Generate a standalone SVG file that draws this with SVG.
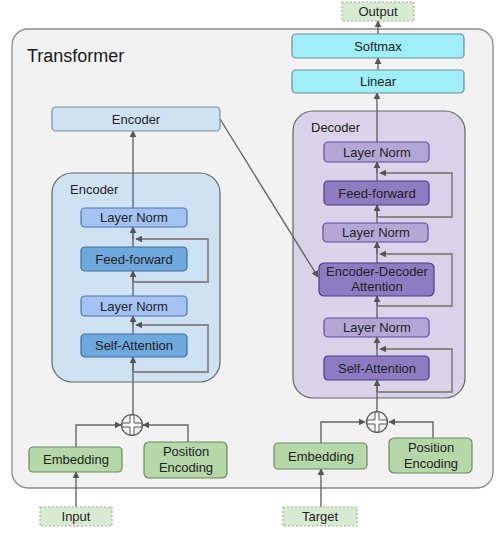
<svg xmlns="http://www.w3.org/2000/svg" width="501" height="535" viewBox="0 0 501 535">
<style>
text{font-family:"Liberation Sans",Arial,sans-serif;font-size:13px;fill:#222;text-anchor:middle}
.lbl{text-anchor:start;font-size:13px}
.title{text-anchor:start;font-size:18px;fill:#1a1a1a}
.outer{fill:#f2f2f2;stroke:#8a8a8a;stroke-width:1.3}
.encc{fill:#cfe2f3;stroke:#666;stroke-width:1.2}
.decc{fill:#d9d2e9;stroke:#666;stroke-width:1.2}
.encbox{fill:#cfe2f3;stroke:#7b8da0;stroke-width:1.2}
.eln{fill:#a4c2f4;stroke:#4f73a8;stroke-width:1.2}
.eff{fill:#6fa8dc;stroke:#3f6f9f;stroke-width:1.2}
.dln{fill:#b4a7d6;stroke:#5b4a9e;stroke-width:1.2}
.dff{fill:#8e7cc3;stroke:#4b3a8a;stroke-width:1.2}
.cyan{fill:#a0eef8;stroke:#6a8f99;stroke-width:1.2}
.green{fill:#b6d7a8;stroke:#6a8a5e;stroke-width:1.2}
.io{fill:#d9ead3;stroke:#9ab58e;stroke-width:1.2;stroke-dasharray:2 2}
.ln{fill:none;stroke:#666;stroke-width:1.4;marker-end:url(#ah)}
.lp{fill:none;stroke:#888;stroke-width:1.8;marker-end:url(#ah)}
.plus{fill:#f2f2f2;stroke:#555;stroke-width:1.2}
.cross{fill:#fff;stroke:#555;stroke-width:1}
</style>
<defs>
<marker id="ah" viewBox="0 0 10 10" refX="9" refY="5" markerWidth="7" markerHeight="7" markerUnits="userSpaceOnUse" orient="auto">
<path d="M0,0 L10,5 L0,10 z" fill="#555"/>
</marker>
<path id="crs" d="M-2,-10 H2 V-2 H10 V2 H2 V10 H-2 V2 H-10 V-2 H-2 Z"/>
</defs>
<rect class="outer" x="12" y="29" width="481" height="459" rx="16"/>
<text class="title" x="27" y="62">Transformer</text>

<g id="encoder-container"><rect class="encc" x="52" y="173" width="168" height="209" rx="20"/><text class="lbl" x="70" y="194">Encoder</text></g>
<g id="decoder-container"><rect class="decc" x="293" y="111" width="172" height="287" rx="20"/><text class="lbl" x="311" y="132">Decoder</text></g>

<g id="connectors">
<line class="ln" x1="220" y1="119" x2="318" y2="277"/>
<polyline class="ln" points="133,415 133,131"/>
<polyline class="lp" points="133,372 208,372 208,325 136,325"/>
<polyline class="lp" points="133,282 208,282 208,239 136,239"/>
<polyline class="ln" points="133,372 133,357"/>
<polyline class="ln" points="133,282 133,271"/>
<polyline class="ln" points="133,325 133,316"/>
<polyline class="ln" points="133,239 133,227"/>
<polyline class="ln" points="377,411 377,93"/>
<polyline class="ln" points="378,70 378,58"/>
<polyline class="ln" points="378,34 378,21"/>
<polyline class="lp" points="377,392 452,392 452,349 380,349"/>
<polyline class="lp" points="377,306 452,306 452,254 380,254"/>
<polyline class="lp" points="377,217 452,217 452,173 380,173"/>
<polyline class="ln" points="377,392 377,380"/>
<polyline class="ln" points="377,349 377,337"/>
<polyline class="ln" points="377,306 377,296"/>
<polyline class="ln" points="377,254 377,242"/>
<polyline class="ln" points="377,217 377,205"/>
<polyline class="ln" points="377,173 377,162"/>
<polyline class="ln" points="76,447 76,425 121,425"/>
<polyline class="ln" points="188,442 188,425 143,425"/>
<polyline class="ln" points="76,507 76,472"/>
<polyline class="ln" points="321,443 321,422 365,422"/>
<polyline class="ln" points="433,438 433,422 389,422"/>
<polyline class="ln" points="321,507 321,469"/>
</g>

<g id="encoder-out"><rect class="encbox" x="52" y="107" width="168" height="24" rx="4"/><text x="136" y="124">Encoder</text></g>
<g id="enc-ln2"><rect class="eln" x="81" y="208" width="106" height="19" rx="4"/><text x="134" y="222">Layer Norm</text></g>
<g id="enc-ff"><rect class="eff" x="81" y="247" width="106" height="24" rx="4"/><text x="134" y="263.5">Feed-forward</text></g>
<g id="enc-ln1"><rect class="eln" x="81" y="296" width="106" height="20" rx="4"/><text x="134" y="310.5">Layer Norm</text></g>
<g id="enc-sa"><rect class="eff" x="81" y="334" width="106" height="23" rx="4"/><text x="134" y="350">Self-Attention</text></g>

<g id="output"><rect class="io" x="342" y="2" width="72" height="19"/><text x="378" y="16">Output</text></g>
<g id="softmax"><rect class="cyan" x="292" y="34" width="172" height="24" rx="4"/><text x="378" y="50.5">Softmax</text></g>
<g id="linear"><rect class="cyan" x="292" y="70" width="172" height="23" rx="4"/><text x="378" y="86">Linear</text></g>

<g id="dec-ln3"><rect class="dln" x="324" y="142" width="105" height="20" rx="4"/><text x="377" y="156.5">Layer Norm</text></g>
<g id="dec-ff"><rect class="dff" x="324" y="181" width="105" height="24" rx="4"/><text x="377" y="197.5">Feed-forward</text></g>
<g id="dec-ln2"><rect class="dln" x="323" y="223" width="105" height="19" rx="4"/><text x="376" y="237">Layer Norm</text></g>
<g id="dec-eda"><rect class="dff" x="319" y="263" width="115" height="33" rx="5"/><text x="377" y="276">Encoder-Decoder</text><text x="377" y="291">Attention</text></g>
<g id="dec-ln1"><rect class="dln" x="324" y="318" width="105" height="19" rx="4"/><text x="377" y="332">Layer Norm</text></g>
<g id="dec-sa"><rect class="dff" x="324" y="356" width="105" height="24" rx="4"/><text x="377" y="372.5">Self-Attention</text></g>

<g id="enc-plus"><circle class="plus" cx="132" cy="425" r="10.5"/><use href="#crs" class="cross" x="132" y="425"/></g>
<g id="dec-plus"><circle class="plus" cx="377" cy="422" r="10.5"/><use href="#crs" class="cross" x="377" y="422"/></g>

<g id="enc-embed"><rect class="green" x="29" y="447" width="93" height="25" rx="4"/><text x="76" y="464">Embedding</text></g>
<g id="enc-pos"><rect class="green" x="144" y="442" width="83" height="36" rx="5"/><text x="186" y="456">Position</text><text x="186" y="472">Encoding</text></g>
<g id="input"><rect class="io" x="40" y="507" width="72" height="19"/><text x="76" y="521">Input</text></g>

<g id="dec-embed"><rect class="green" x="274" y="443" width="93" height="26" rx="4"/><text x="321" y="460.5">Embedding</text></g>
<g id="dec-pos"><rect class="green" x="389" y="438" width="83" height="35" rx="5"/><text x="431" y="452">Position</text><text x="431" y="468">Encoding</text></g>
<g id="target"><rect class="io" x="283" y="507" width="74" height="19"/><text x="320" y="521">Target</text></g>
</svg>
